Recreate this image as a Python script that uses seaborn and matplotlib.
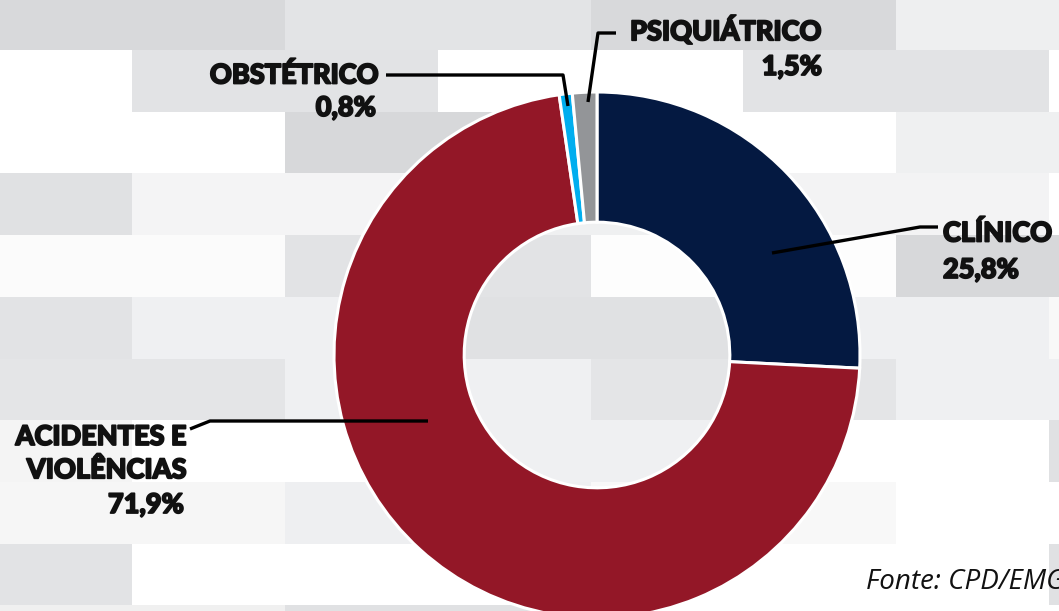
import matplotlib
matplotlib.use('Agg')
import matplotlib.pyplot as plt
import matplotlib.patheffects as pe
from matplotlib.patches import Rectangle
import seaborn as sns

# Chart data
categories = ['CLÍNICO', 'ACIDENTES E\nVIOLÊNCIAS', 'OBSTÉTRICO', 'PSIQUIÁTRICO']
shares = [25.8, 71.9, 0.8, 1.5]
pct_labels = ['25,8%', '71,9%', '0,8%', '1,5%']
wedge_colors = ['#041941', '#931727', '#00aeef', '#939598']

# Background tile colours (rows alternate between two brick offsets)
tile_rows = [
    ['#d8d9db', '#e3e4e6', '#d8d9db', '#eeeff0'],
    ['#ffffff', '#e2e3e5', '#ffffff', '#e2e3e5', '#ffffff'],
    ['#ffffff', '#d7d8da', '#ffffff', '#eff0f1'],
    ['#e0e1e3', '#f4f4f5', '#eff0f1', '#f3f3f4', '#ffffff'],
    ['#fbfbfb', '#e2e3e5', '#fdfdfd', '#d7d8da'],
    ['#e2e3e5', '#eff0f2', '#e0e1e3', '#eff0f2', '#f8f8f8'],
    ['#e4e5e7', '#eff0f2', '#e4e5e7', '#eff0f2'],
    ['#f4f4f4', '#ffffff', '#eff0f2', '#ffffff', '#e0e1e3'],
    ['#f6f6f6', '#eeeff1', '#f8f8f8', '#ffffff'],
    ['#e2e3e5', '#ffffff', '#ffffff', '#ffffff', '#e0e1e3'],
    ['#f0f0f0', '#e0e1e3', '#ffffff', '#ffffff'],
]

sns.set_theme(style='white')
plt.rcParams['font.family'] = ['Lato', 'DejaVu Sans']

W, H = 1059, 611
fig = plt.figure(figsize=(W / 100, H / 100), dpi=100)
ax = fig.add_axes([0, 0, 1, 1])

# brick background
tile_w, tile_h = 305.6, 61.7
for i, row in enumerate(tile_rows):
    top = 50 + (i - 1) * tile_h
    x0 = -20.6 if i % 2 == 0 else -173.6
    for j, c in enumerate(row):
        ax.add_patch(Rectangle((x0 + j * tile_w, top), tile_w, tile_h,
                               facecolor=c, edgecolor='none', zorder=0))

# donut (y axis is inverted, so counterclock in data = clockwise on screen)
cx, cy, r = 597, 355, 263
ax.pie(shares, colors=wedge_colors, startangle=-90, counterclock=True,
       radius=r, center=(cx, cy), frame=True,
       wedgeprops=dict(width=r * 0.495, edgecolor='white', linewidth=2.2))

ax.set_aspect('auto')
ax.set_xlim(0, W)
ax.set_ylim(H, 0)
ax.axis('off')

# leader lines
leaders = [
    [(772, 253), (920, 227), (938, 227)],
    [(428, 421), (210, 421), (190, 429)],
    [(568, 106), (563, 75), (386, 75)],
    [(588, 102), (598, 33), (616, 33)],
]
for pts in leaders:
    xs, ys = zip(*pts)
    ax.plot(xs, ys, color='black', lw=2.4, solid_capstyle='butt', zorder=5)

fs = 19.5
heavy = [pe.withStroke(linewidth=1.3, foreground='#111111')]
kw = dict(fontsize=fs, fontweight='black', color='#111111', zorder=6,
          path_effects=heavy)
acc_lines = categories[1].split('\n')
ax.text(943, 233, categories[0], ha='left', va='center', **kw)
ax.text(943, 270, pct_labels[0], ha='left', va='center', **kw)
ax.text(186, 437, acc_lines[0], ha='right', va='center', **kw)
ax.text(186, 470, acc_lines[1], ha='right', va='center', **kw)
ax.text(184, 505, pct_labels[1], ha='right', va='center', **kw)
ax.text(378, 75, categories[2], ha='right', va='center', **kw)
ax.text(376, 108, pct_labels[2], ha='right', va='center', **kw)
ax.text(630, 30, categories[3], ha='left', va='center', **kw)
ax.text(822, 67, pct_labels[3], ha='right', va='center', **kw)

ax.text(866, 582, 'Fonte: CPD/EMG', ha='left', va='center', fontsize=20,
        fontstyle='italic', family=['Open Sans', 'DejaVu Sans'], color='#111111')

fig.savefig('out.png', dpi=100)
